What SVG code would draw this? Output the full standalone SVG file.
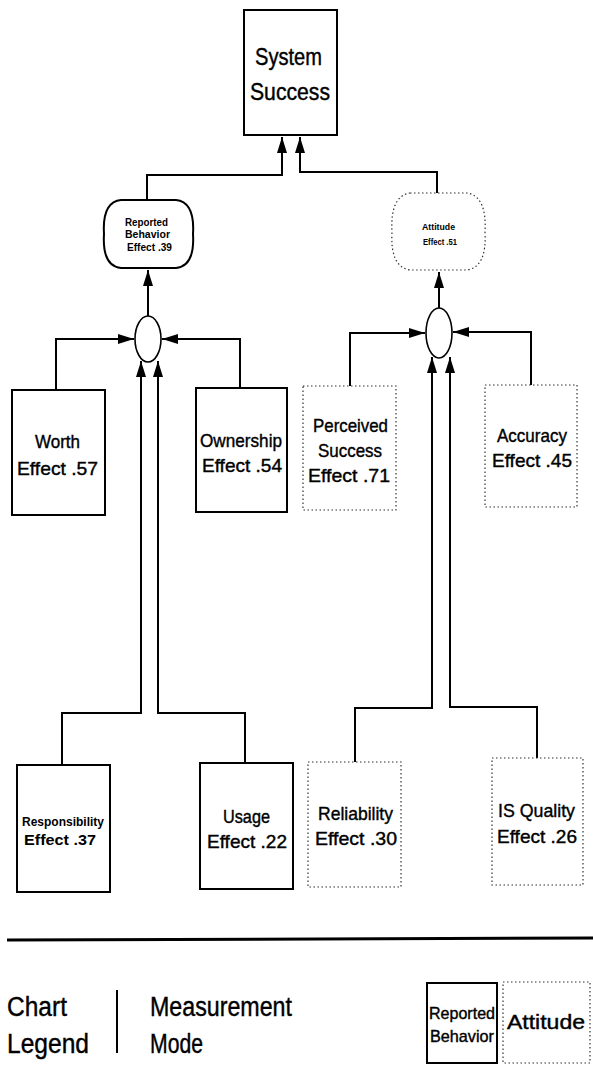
<svg xmlns="http://www.w3.org/2000/svg" width="593" height="1066" viewBox="0 0 593 1066">
<style>
.t{font-family:"Liberation Sans",Arial,sans-serif;fill:#000;text-anchor:start;stroke:#000;stroke-width:0.4}
.solid{fill:#fff;stroke:#000;stroke-width:2}
.dot{fill:#fff;stroke:#333;stroke-width:1.2;stroke-dasharray:1.5 2.5}
.c{fill:none;stroke:#000;stroke-width:2}
.sb{font-weight:bold;stroke-width:0}
</style>
<defs>
<marker id="ah" markerUnits="userSpaceOnUse" markerWidth="16" markerHeight="10" refX="16" refY="5" orient="auto">
<path d="M0,0 L16,5 L0,10 Z" fill="#000"/>
</marker>
</defs>
<rect width="593" height="1066" fill="#fff"/>
<g id="connectors">
<path class="c" d="M147,200 V175 H282 V137" marker-end="url(#ah)"/>
<path class="c" d="M437,195 V172 H300 V137" marker-end="url(#ah)"/>
<path class="c" d="M148,316 V270" marker-end="url(#ah)"/>
<path class="c" d="M439,308 V272" marker-end="url(#ah)"/>
<path class="c" d="M56,390 V339 H134" marker-end="url(#ah)"/>
<path class="c" d="M240,388 V339 H162" marker-end="url(#ah)"/>
<path class="c" d="M62,765 V713 H141 V361" marker-end="url(#ah)"/>
<path class="c" d="M245,763 V713 H158 V361" marker-end="url(#ah)"/>
<path class="c" d="M350,386 V333 H425" marker-end="url(#ah)"/>
<path class="c" d="M531,385 V332 H453" marker-end="url(#ah)"/>
<path class="c" d="M355,762 V708 H432 V357" marker-end="url(#ah)"/>
<path class="c" d="M537,758 V707 H450 V357" marker-end="url(#ah)"/>
</g>
<g id="system-success">
<rect class="solid" x="244" y="10" width="93" height="125"/>
<text class="t" x="255" y="65" font-size="24" textLength="67" lengthAdjust="spacingAndGlyphs">System</text>
<text class="t" x="250" y="100" font-size="24" textLength="80" lengthAdjust="spacingAndGlyphs">Success</text>
</g>
<g id="reported-behavior">
<path class="solid" d="M121,200 L176,200 Q195,202 193,234 Q195,266 176,268 L121,268 Q102,266 104,234 Q102,202 121,200 Z"/>
<text class="t sb" x="125" y="226" font-size="10" textLength="43" lengthAdjust="spacingAndGlyphs">Reported</text>
<text class="t sb" x="125" y="238" font-size="10" textLength="45" lengthAdjust="spacingAndGlyphs">Behavior</text>
<text class="t sb" x="127" y="251" font-size="10" textLength="45" lengthAdjust="spacingAndGlyphs">Effect .39</text>
</g>
<g id="attitude">
<path class="dot" d="M410,193 L467,193 Q487,196 485,232 Q487,267 467,270 L410,270 Q390,267 392,232 Q390,196 410,193 Z"/>
<text class="t sb" x="422" y="230" font-size="9" textLength="33" lengthAdjust="spacingAndGlyphs">Attitude</text>
<text class="t sb" x="423" y="245" font-size="9" textLength="34" lengthAdjust="spacingAndGlyphs">Effect .51</text>
</g>
<g id="junction-left">
<ellipse cx="148" cy="339" rx="13" ry="23" fill="#fff" stroke="#000" stroke-width="1.6"/>
</g>
<g id="junction-right">
<ellipse cx="439" cy="333" rx="13" ry="25" fill="#fff" stroke="#000" stroke-width="1.6"/>
</g>
<g id="worth">
<rect class="solid" x="12" y="390" width="93" height="125"/>
<text class="t" x="35" y="448" font-size="19" textLength="45" lengthAdjust="spacingAndGlyphs">Worth</text>
<text class="t" x="17" y="475" font-size="19" textLength="81" lengthAdjust="spacingAndGlyphs">Effect .57</text>
</g>
<g id="ownership">
<rect class="solid" x="196" y="388" width="91" height="124"/>
<text class="t" x="200" y="447" font-size="19" textLength="82" lengthAdjust="spacingAndGlyphs">Ownership</text>
<text class="t" x="202" y="472" font-size="19" textLength="80" lengthAdjust="spacingAndGlyphs">Effect .54</text>
</g>
<g id="perceived-success">
<rect class="dot" x="303" y="386" width="93" height="124"/>
<text class="t" x="313" y="432" font-size="19" textLength="75" lengthAdjust="spacingAndGlyphs">Perceived</text>
<text class="t" x="318" y="457" font-size="19" textLength="64" lengthAdjust="spacingAndGlyphs">Success</text>
<text class="t" x="308" y="482" font-size="19" textLength="82" lengthAdjust="spacingAndGlyphs">Effect .71</text>
</g>
<g id="accuracy">
<rect class="dot" x="485" y="385" width="92" height="122"/>
<text class="t" x="497" y="442" font-size="19" textLength="70" lengthAdjust="spacingAndGlyphs">Accuracy</text>
<text class="t" x="492" y="467" font-size="19" textLength="80" lengthAdjust="spacingAndGlyphs">Effect .45</text>
</g>
<g id="responsibility">
<rect class="solid" x="17" y="765" width="93" height="127"/>
<text class="t sb" x="22" y="826" font-size="13" textLength="82" lengthAdjust="spacingAndGlyphs">Responsibility</text>
<text class="t sb" x="24" y="845" font-size="14" textLength="72" lengthAdjust="spacingAndGlyphs">Effect .37</text>
</g>
<g id="usage">
<rect class="solid" x="200" y="763" width="93" height="126"/>
<text class="t" x="223" y="823" font-size="19" textLength="47" lengthAdjust="spacingAndGlyphs">Usage</text>
<text class="t" x="207" y="848" font-size="19" textLength="80" lengthAdjust="spacingAndGlyphs">Effect .22</text>
</g>
<g id="reliability">
<rect class="dot" x="308" y="762" width="93" height="125"/>
<text class="t" x="318" y="820" font-size="19" textLength="75" lengthAdjust="spacingAndGlyphs">Reliability</text>
<text class="t" x="315" y="845" font-size="19" textLength="82" lengthAdjust="spacingAndGlyphs">Effect .30</text>
</g>
<g id="is-quality">
<rect class="dot" x="492" y="758" width="91" height="127"/>
<text class="t" x="498" y="817" font-size="19" textLength="77" lengthAdjust="spacingAndGlyphs">IS Quality</text>
<text class="t" x="497" y="843" font-size="19" textLength="80" lengthAdjust="spacingAndGlyphs">Effect .26</text>
</g>
<g id="legend">
<line x1="7" y1="940" x2="593" y2="938" stroke="#000" stroke-width="3"/>
<text class="t" x="7" y="1016" font-size="27" textLength="60" lengthAdjust="spacingAndGlyphs">Chart</text>
<text class="t" x="7" y="1053" font-size="27" textLength="82" lengthAdjust="spacingAndGlyphs">Legend</text>
<line x1="117" y1="990" x2="117" y2="1053" stroke="#000" stroke-width="2"/>
<text class="t" x="150" y="1016" font-size="27" textLength="142" lengthAdjust="spacingAndGlyphs">Measurement</text>
<text class="t" x="150" y="1053" font-size="27" textLength="53" lengthAdjust="spacingAndGlyphs">Mode</text>
<rect class="solid" x="427" y="983" width="70" height="80"/>
<text class="t" x="429" y="1019" font-size="17" textLength="66" lengthAdjust="spacingAndGlyphs">Reported</text>
<text class="t" x="430" y="1042" font-size="17" textLength="64" lengthAdjust="spacingAndGlyphs">Behavior</text>
<rect class="dot" x="503" y="982" width="87" height="81"/>
<text class="t" x="507" y="1029" font-size="20" textLength="78" lengthAdjust="spacingAndGlyphs">Attitude</text>
</g>
</svg>
